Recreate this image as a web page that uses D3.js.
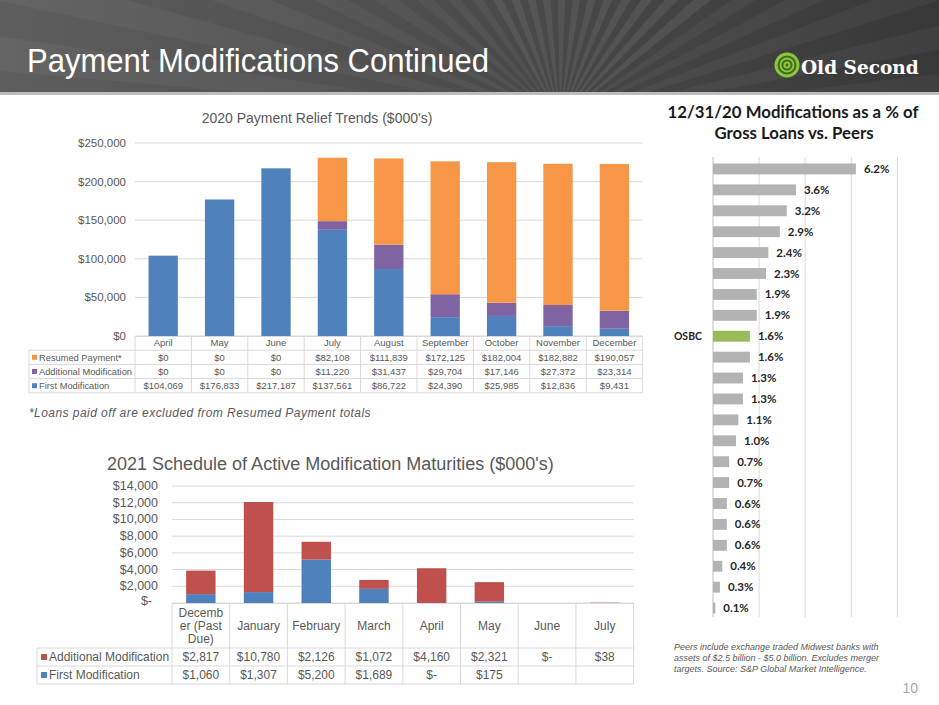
<!DOCTYPE html>
<html><head><meta charset="utf-8">
<script src="https://cdn.jsdelivr.net/npm/d3@7"></script>
<style>
html,body{margin:0;padding:0;background:#fff;}
svg{display:block;}
</style></head>
<body>
<svg id="c" width="939" height="705"></svg>
<script>
// ---------- DATA ----------
const months2020 = ["April","May","June","July","August","September","October","November","December"];
const resumedPayment = [0,0,0,82108,111839,172125,182004,182882,190057];
const additionalMod2020 = [0,0,0,11220,31437,29704,17146,27372,23314];
const firstMod2020 = [104069,176833,217187,137561,86722,24390,25985,12836,9431];
const yTicks2020 = [0,50000,100000,150000,200000,250000];

const months2021 = ["December (Past Due)","January","February","March","April","May","June","July"];
const additionalMod2021 = [2817,10780,2126,1072,4160,2321,0,38];
const firstMod2021 = [1060,1307,5200,1689,0,175,null,null];
const yTicks2021 = [0,2000,4000,6000,8000,10000,12000,14000];

const peerValues = [6.2,3.6,3.2,2.9,2.4,2.3,1.9,1.9,1.6,1.6,1.3,1.3,1.1,1.0,0.7,0.7,0.6,0.6,0.6,0.4,0.3,0.1];
const peerNames = ["","","","","","","","","OSBC","","","","","","","","","","","","",""];
const peerTicks = [0,2,4,6,8];

// ---------- SETUP ----------
const svg = d3.select("#c");
const SANS = "'Liberation Sans', Arial, sans-serif";
const GRAY = "#595959";
const C_BLUE = "#4f81bd", C_PURPLE = "#8064a2", C_ORANGE = "#f79646", C_RED = "#c0504d";
const C_GRID = "#d9d9d9";

// ---------- HEADER ----------
const defs = svg.append("defs");
const hg = defs.append("linearGradient").attr("id","hg").attr("x1","0").attr("y1","0").attr("x2","1").attr("y2","0");
hg.append("stop").attr("offset","0").attr("stop-color","#5e5e5e");
hg.append("stop").attr("offset","0.55").attr("stop-color","#4a4a4a");
hg.append("stop").attr("offset","1").attr("stop-color","#383838");
svg.append("rect").attr("x",0).attr("y",0).attr("width",939).attr("height",93).attr("fill","url(#hg)");
const clip = defs.append("clipPath").attr("id","hclip");
clip.append("rect").attr("x",0).attr("y",0).attr("width",939).attr("height",93);
const rays = svg.append("g").attr("clip-path","url(#hclip)");
const cx0 = 560, cy0 = 120;
for (let a = 185; a < 360; a += 7) {
  const a1 = a*Math.PI/180, a2 = (a+3.5)*Math.PI/180, R = 900;
  rays.append("path")
    .attr("d", `M${cx0},${cy0}L${cx0+R*Math.cos(a1)},${cy0+R*Math.sin(a1)}L${cx0+R*Math.cos(a2)},${cy0+R*Math.sin(a2)}Z`)
    .attr("fill","#ffffff").attr("opacity", a > 240 && a < 320 ? 0.07 : 0.04);
}
svg.append("rect").attr("x",0).attr("y",92).attr("width",939).attr("height",3).attr("fill","#bdbdbd");
svg.append("text").attr("transform","translate(27,72) scale(0.94,1)").attr("fill","#fff")
  .attr("font-family",SANS).attr("font-size",33).text("Payment Modifications Continued");
// logo
const lg = svg.append("g").attr("transform","translate(787,65)");
lg.append("circle").attr("r",12.5).attr("fill","#8cc63f");
lg.append("circle").attr("r",8.5).attr("fill","none").attr("stroke","#3f6b1f").attr("stroke-width",2);
lg.append("circle").attr("r",4.5).attr("fill","none").attr("stroke","#3f6b1f").attr("stroke-width",2);
lg.append("circle").attr("r",1.5).attr("fill","#3f6b1f");
svg.append("text").attr("x",801).attr("y",74).attr("fill","#fff")
  .attr("font-family","'DejaVu Serif', serif").attr("font-weight","bold").attr("font-size",18.5).text("Old Second");

// ---------- CHART 1 ----------
const c1 = svg.append("g");
const x1 = d3.scaleBand().domain(months2020).range([135,642.6]).paddingInner(0.48).paddingOuter(0.24);
const y1 = d3.scaleLinear().domain([0,250000]).range([336,143]);
c1.append("text").attr("x",317).attr("y",123).attr("text-anchor","middle")
  .attr("font-family",SANS).attr("font-size",14).attr("fill",GRAY).text("2020 Payment Relief Trends ($000's)");
c1.selectAll(".g1").data(yTicks2020).join("line")
  .attr("x1",135).attr("x2",642.6).attr("y1",d=>y1(d)).attr("y2",d=>y1(d))
  .attr("stroke",C_GRID).attr("stroke-width",1);
c1.selectAll(".t1").data(yTicks2020).join("text")
  .attr("x",126).attr("y",d=>y1(d)+4).attr("text-anchor","end")
  .attr("font-family",SANS).attr("font-size",11.5).attr("fill",GRAY)
  .text(d=>"$"+d3.format(",")(d));
const stackData1 = months2020.map((m,i)=>({m, first:firstMod2020[i], add:additionalMod2020[i], res:resumedPayment[i]}));
const stack1 = d3.stack().keys(["first","add","res"])(stackData1);
const cols1 = [C_BLUE, C_PURPLE, C_ORANGE];
stack1.forEach((s,k)=>{
  c1.append("g").selectAll("rect").data(s).join("rect")
    .attr("x",d=>x1(d.data.m)).attr("width",x1.bandwidth())
    .attr("y",d=>y1(d[1])).attr("height",d=>y1(d[0])-y1(d[1]))
    .attr("fill",cols1[k]);
});
// table
const t1top = 336, t1rh = 14.2, t1left = 29, t1colL = 135, t1right = 642.6;
const step1 = x1.step();
const rows1 = [
  {label:"Resumed Payment*", vals:resumedPayment, col:C_ORANGE},
  {label:"Additional Modification", vals:additionalMod2020, col:C_PURPLE},
  {label:"First Modification", vals:firstMod2020, col:C_BLUE}
];
const tb1 = c1.append("g").attr("font-family",SANS).attr("fill",GRAY);
tb1.append("line").attr("x1",t1colL).attr("x2",t1right).attr("y1",t1top+0.5).attr("y2",t1top+0.5).attr("stroke",C_GRID);
for (let r=1;r<=4;r++){
  tb1.append("line").attr("x1",t1left).attr("x2",t1right).attr("y1",t1top+r*t1rh).attr("y2",t1top+r*t1rh).attr("stroke",C_GRID);
}
for (let c=0;c<=9;c++){
  const xx = t1colL + c*step1;
  tb1.append("line").attr("x1",xx).attr("x2",xx).attr("y1",t1top).attr("y2",t1top+4*t1rh).attr("stroke",C_GRID);
}
tb1.append("line").attr("x1",t1left).attr("x2",t1left).attr("y1",t1top+t1rh).attr("y2",t1top+4*t1rh).attr("stroke",C_GRID);
tb1.selectAll(".hm").data(months2020).join("text")
  .attr("x",d=>x1(d)+x1.bandwidth()/2).attr("y",t1top+t1rh/2+3.3).attr("text-anchor","middle")
  .attr("font-size",9.5).text(d=>d);
rows1.forEach((r,ri)=>{
  const yy = t1top+(ri+1)*t1rh;
  tb1.append("rect").attr("x",t1left+3).attr("y",yy+t1rh/2-2.5).attr("width",5).attr("height",5).attr("fill",r.col);
  tb1.append("text").attr("x",t1left+10).attr("y",yy+t1rh/2+3.3).attr("font-size",9.3).text(r.label);
  tb1.selectAll(null).data(r.vals).join("text")
    .attr("x",(d,i)=>x1(months2020[i])+x1.bandwidth()/2).attr("y",yy+t1rh/2+3.3)
    .attr("text-anchor","middle").attr("font-size",9.5)
    .text(d=>"$"+d3.format(",")(d));
});
svg.append("text").attr("x",29).attr("y",417).attr("font-family",SANS).attr("font-style","italic")
  .attr("font-size",12).attr("letter-spacing",0.45).attr("fill",GRAY).text("*Loans paid off are excluded from Resumed Payment totals");

// ---------- CHART 2 ----------
const c2 = svg.append("g");
const x2 = d3.scaleBand().domain(months2021).range([172,633.6]).paddingInner(0.49).paddingOuter(0.245);
const y2 = d3.scaleLinear().domain([0,14000]).range([603,486]);
c2.append("text").attr("x",107).attr("y",470)
  .attr("font-family",SANS).attr("font-size",18).attr("fill",GRAY).text("2021 Schedule of Active Modification Maturities ($000's)");
c2.selectAll(".g2").data(yTicks2021).join("line")
  .attr("x1",172).attr("x2",633.6).attr("y1",d=>y2(d)).attr("y2",d=>y2(d))
  .attr("stroke",C_GRID);
c2.selectAll(".t2").data(yTicks2021).join("text")
  .attr("x",d=>d===0?152:158).attr("y",d=>y2(d)+(d===0?2:4)).attr("text-anchor","end")
  .attr("font-family",SANS).attr("font-size",12.5).attr("fill",GRAY)
  .text(d=>d===0?"$-":"$"+d3.format(",")(d));
const stackData2 = months2021.map((m,i)=>({m, first:firstMod2021[i]||0, add:additionalMod2021[i]||0}));
const stack2 = d3.stack().keys(["first","add"])(stackData2);
const cols2 = [C_BLUE, C_RED];
stack2.forEach((s,k)=>{
  c2.append("g").selectAll("rect").data(s).join("rect")
    .attr("x",d=>x2(d.data.m)).attr("width",x2.bandwidth())
    .attr("y",d=>y2(d[1])).attr("height",d=>y2(d[0])-y2(d[1]))
    .attr("fill",cols2[k]);
});
const t2top = 603, t2hh = 45, t2rh = 18, t2left = 37, t2colL = 172, t2right = 633.6;
const step2 = x2.step();
const tb2 = c2.append("g").attr("font-family",SANS).attr("fill",GRAY);
tb2.append("line").attr("x1",t2colL).attr("x2",t2right).attr("y1",t2top+0.5).attr("y2",t2top+0.5).attr("stroke",C_GRID);
[t2top+t2hh, t2top+t2hh+t2rh, t2top+t2hh+2*t2rh].forEach(yy=>{
  tb2.append("line").attr("x1",t2left).attr("x2",t2right).attr("y1",yy).attr("y2",yy).attr("stroke",C_GRID);
});
for (let c=0;c<=8;c++){
  const xx = t2colL + c*step2;
  tb2.append("line").attr("x1",xx).attr("x2",xx).attr("y1",t2top).attr("y2",t2top+t2hh+2*t2rh).attr("stroke",C_GRID);
}
tb2.append("line").attr("x1",t2left).attr("x2",t2left).attr("y1",t2top+t2hh).attr("y2",t2top+t2hh+2*t2rh).attr("stroke",C_GRID);
const wrap = s => s==="December (Past Due)" ? ["Decemb","er (Past","Due)"] : [s];
months2021.forEach(m=>{
  const lines = wrap(m);
  const cxm = x2(m)+x2.bandwidth()/2;
  const y0 = t2top + t2hh/2 - (lines.length-1)*13/2 + 4.3;
  lines.forEach((ln,li)=>{
    tb2.append("text").attr("x",cxm).attr("y",y0+li*13).attr("text-anchor","middle").attr("font-size",12).text(ln);
  });
});
const rows2 = [
  {label:"Additional Modification", vals:additionalMod2021, col:C_RED},
  {label:"First Modification", vals:firstMod2021, col:C_BLUE}
];
rows2.forEach((r,ri)=>{
  const yy = t2top+t2hh+ri*t2rh;
  tb2.append("rect").attr("x",t2left+4).attr("y",yy+t2rh/2-3).attr("width",6).attr("height",6).attr("fill",r.col);
  tb2.append("text").attr("x",t2left+12).attr("y",yy+t2rh/2+4.3).attr("font-size",12).text(r.label);
  tb2.selectAll(null).data(r.vals).join("text")
    .attr("x",(d,i)=>x2(months2021[i])+x2.bandwidth()/2).attr("y",yy+t2rh/2+4.3)
    .attr("text-anchor","middle").attr("font-size",12)
    .text(d=>d===null?"":(d===0?"$-":"$"+d3.format(",")(d)));
});

// ---------- CHART 3 ----------
const c3 = svg.append("g");
const CAL = "Lato, 'Open Sans', sans-serif";
c3.append("text").attr("x",793).attr("y",118).attr("text-anchor","middle")
  .attr("font-family",CAL).attr("font-weight","bold").attr("font-size",16.8).attr("fill","#1a1a1a")
  .text("12/31/20 Modifications as a % of");
c3.append("text").attr("x",794).attr("y",139).attr("text-anchor","middle")
  .attr("font-family",CAL).attr("font-weight","bold").attr("font-size",16.8).attr("fill","#1a1a1a")
  .text("Gross Loans vs. Peers");
const x3 = d3.scaleLinear().domain([0,8]).range([713,897.4]);
const y3 = d3.scaleBand().domain(d3.range(peerValues.length)).range([158.5,618.5]).paddingInner(0.48).paddingOuter(0.24);
c3.selectAll(".g3").data(peerTicks).join("line")
  .attr("x1",d=>x3(d)).attr("x2",d=>x3(d)).attr("y1",157).attr("y2",617)
  .attr("stroke",d=>d===0?"#bfbfbf":C_GRID);
c3.selectAll(".b3").data(peerValues).join("rect")
  .attr("x",x3(0)).attr("y",(d,i)=>y3(i)).attr("height",y3.bandwidth())
  .attr("width",d=>x3(d)-x3(0))
  .attr("fill",(d,i)=>peerNames[i]==="OSBC"?"#9bbb59":"#b3b3b3");
c3.selectAll(".l3").data(peerValues).join("text")
  .attr("x",d=>x3(d)+8).attr("y",(d,i)=>y3(i)+y3.bandwidth()/2+4)
  .attr("font-family",CAL).attr("font-weight","bold").attr("font-size",11.5).attr("fill","#262626")
  .text(d=>d3.format(".1f")(d)+"%");
c3.selectAll(".n3").data(peerNames).join("text")
  .attr("x",702).attr("y",(d,i)=>y3(i)+y3.bandwidth()/2+4).attr("text-anchor","end")
  .attr("font-family",CAL).attr("font-weight","bold").attr("font-size",10.5).attr("fill","#262626")
  .text(d=>d);
const fn = ["Peers include exchange traded Midwest banks with",
            "assets of $2.5 billion - $5.0 billion. Excludes merger",
            "targets. Source: S&P Global Market Intelligence."];
fn.forEach((t,i)=>{
  svg.append("text").attr("x",674).attr("y",650+i*11).attr("font-family",SANS).attr("font-style","italic")
    .attr("font-size",9).attr("fill",GRAY).text(t);
});
svg.append("text").attr("x",918).attr("y",693).attr("text-anchor","end").attr("font-family",SANS)
  .attr("font-size",14).attr("fill","#a6a6a6").text("10");
</script>
</body></html>
